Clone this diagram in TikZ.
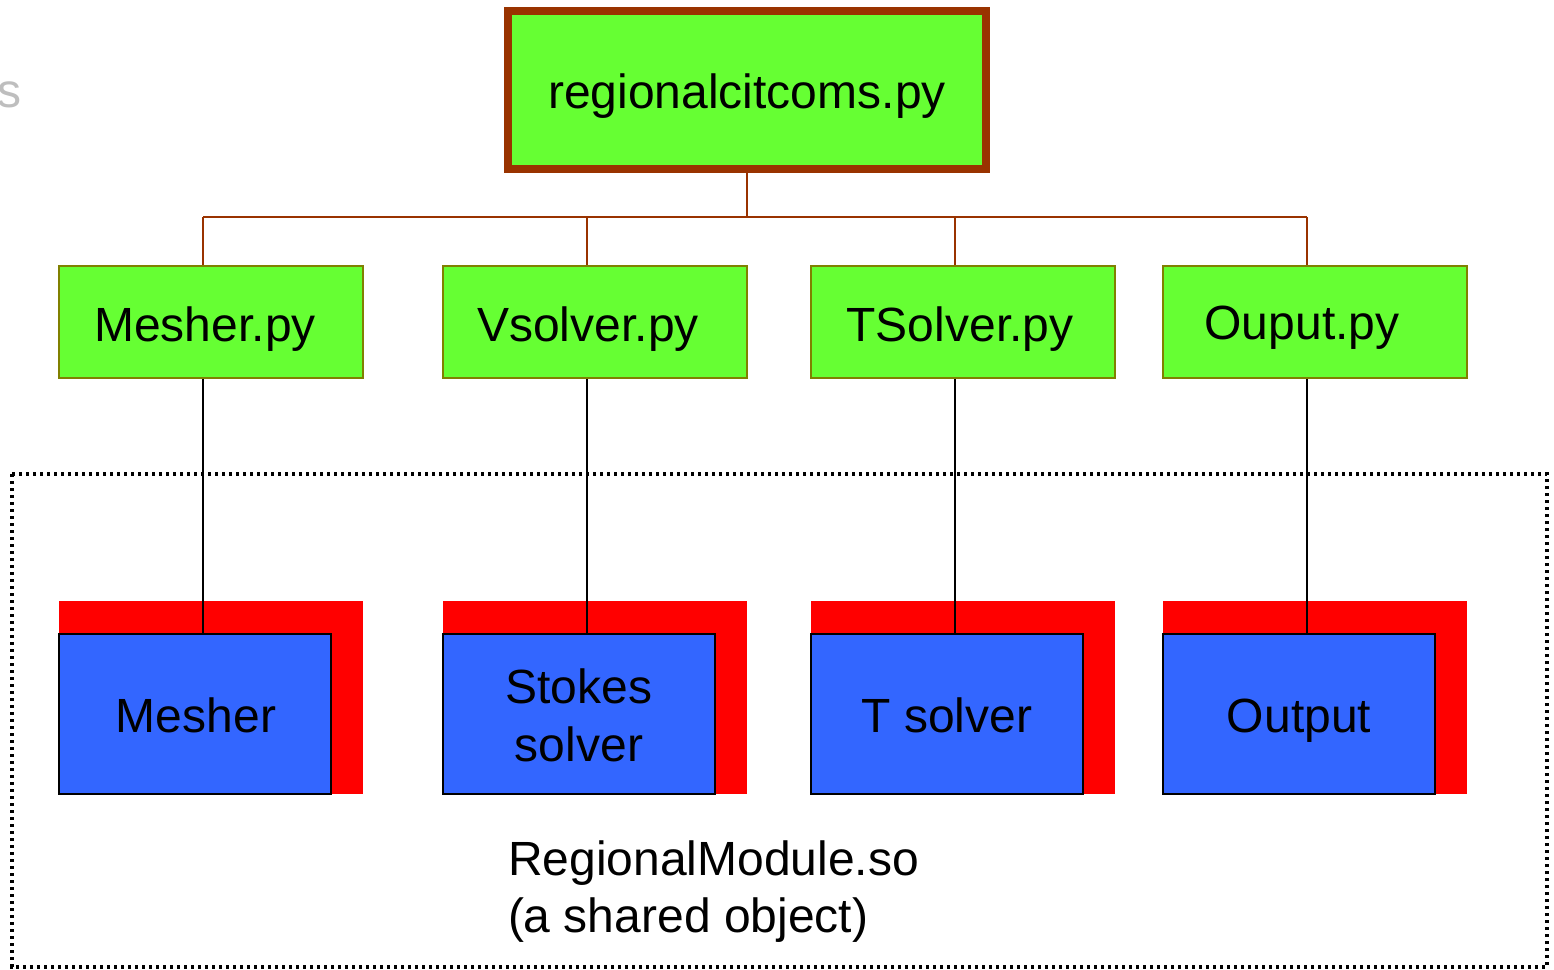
\documentclass[tikz,border=0pt]{standalone}
\usepackage{fontspec}
\setmainfont{Liberation Sans}
\usetikzlibrary{calc}

\definecolor{topgreen}{HTML}{66FF33}
\definecolor{treebrown}{HTML}{993300}
\definecolor{boxolive}{HTML}{808000}
\definecolor{modblue}{HTML}{3366FF}
\definecolor{modred}{HTML}{FF0000}
\definecolor{fadegray}{HTML}{BEBEBE}

\tikzset{
  lbl/.style={font=\fontsize{48}{57.6}\selectfont, inner sep=0pt, outer sep=0pt, anchor=base, text=black},
  rootbox/.style={draw=treebrown, line width=8pt, fill=topgreen, inner sep=0pt,
    minimum width=478pt, minimum height=158pt},
  pybox/.style={draw=boxolive, line width=1.8pt, fill=topgreen, inner sep=0pt,
    minimum width=304pt, minimum height=112pt},
  shadowbox/.style={fill=modred, inner sep=0pt, outer sep=0pt,
    minimum width=304pt, minimum height=193pt},
  modbox/.style={draw=black, line width=2pt, fill=modblue, inner sep=0pt,
    minimum width=272pt, minimum height=160pt},
  treeline/.style={draw=treebrown, line width=2pt},
  bindline/.style={draw=black, line width=1.6pt},
  dotframe/.style={draw=black, line width=3.4pt, dash pattern=on 3.4pt off 3.6pt},
}

\begin{document}
\begin{tikzpicture}[x=1pt, y=-1pt]
  \useasboundingbox (0,0) rectangle (1554,969);

  % edge of a heading cut off at the left margin
  \node[lbl, anchor=base west, text=fadegray] (cut) at (-2,107) {s};

  % frame around the compiled module
  \draw[dotframe] (12,474) rectangle (1547,967);

  % driver script
  \node[rootbox] (root) at (747,90) {};
  \node[lbl] (rootlbl) at (747,108) {regionalcitcoms.py};

  % Python-level components
  \node[pybox] (m1) at (211,322) {};
  \node[pybox] (m2) at (595,322) {};
  \node[pybox] (m3) at (963,322) {};
  \node[pybox] (m4) at (1315,322) {};
  \node[lbl] (m1l) at (205,341) {Mesher.py};
  \node[lbl] (m2l) at (588,341) {Vsolver.py};
  \node[lbl] (m3l) at (960,341) {TSolver.py};
  \node[lbl] (m4l) at (1302,339) {Ouput.py};

  % C-level components inside the shared object
  \node[shadowbox] (r1) at (211,697.5) {};
  \node[shadowbox] (r2) at (595,697.5) {};
  \node[shadowbox] (r3) at (963,697.5) {};
  \node[shadowbox] (r4) at (1315,697.5) {};
  \node[modbox] (b1) at (195,714) {};
  \node[modbox] (b2) at (579,714) {};
  \node[modbox] (b3) at (947,714) {};
  \node[modbox] (b4) at (1299,714) {};
  \node[lbl] (b1l) at (196,732) {Mesher};
  \node[lbl] (b2l) at (579,703) {Stokes};
  \node[lbl] (b2m) at (579,761) {solver};
  \node[lbl] (b3l) at (947,732) {T solver};
  \node[lbl] (b4l) at (1299,732) {Output};

  \node[lbl, anchor=base west] (modname) at (508,875) {RegionalModule.so};
  \node[lbl, anchor=base west] (modnote) at (508,932) {(a shared object)};

  % tree from the driver to its components
  \coordinate (hub) at (747,217);
  \coordinate (j1) at (203,217);
  \coordinate (j2) at (587,217);
  \coordinate (j3) at (955,217);
  \coordinate (j4) at (1307,217);
  \draw[treeline] (root.south) -- (hub);
  \draw[treeline] (j1) -- (j4);
  \foreach \k in {1,...,4} {
    \draw[treeline] (j\k) -- (j\k |- m\k.north);
    \draw[bindline] (j\k |- m\k.south) -- (j\k |- b\k.north);
  }
\end{tikzpicture}
\end{document}
